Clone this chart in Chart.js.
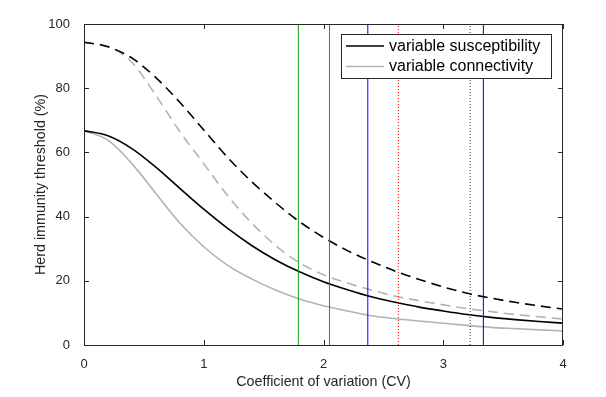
<!DOCTYPE html>
<html>
<head>
<meta charset="utf-8">
<script src="https://cdn.jsdelivr.net/npm/chart.js@4.4.0/dist/chart.umd.min.js"></script>
<style>
  html, body { margin: 0; padding: 0; background: #fff; }
  #wrap { width: 606px; height: 397px; }
</style>
</head>
<body>
<div id="wrap"><canvas id="grafico" width="606" height="397"></canvas></div>
<script>
// Valores
const cv = [0, 0.2, 0.4, 0.6, 0.8, 1.0, 1.2, 1.4, 1.6, 1.8, 2.0, 2.2, 2.4, 2.6, 2.8, 3.0, 3.2, 3.4, 3.6, 3.8, 4.0]
const suscAlto = [94.3, 92.9, 89.4, 83.3, 75.6, 67.0, 58.4, 50.9, 44.3, 38.4, 33.5, 29.4, 26.0, 23.0, 20.4, 18.1, 16.1, 14.6, 13.3, 12.2, 11.2]
const conecAlto = [94.3, 93.0, 88.0, 77.8, 66.5, 56.5, 46.5, 38.0, 31.0, 25.6, 21.9, 19.3, 17.1, 15.2, 13.8, 12.5, 11.3, 10.4, 9.5, 8.8, 8.1]
const suscBajo = [66.8, 65.2, 61.2, 55.4, 48.8, 42.3, 36.3, 31.0, 26.5, 22.8, 19.7, 17.2, 15.0, 13.3, 11.8, 10.6, 9.5, 8.6, 7.9, 7.3, 6.8]
const conecBajo = [66.8, 63.8, 56.5, 47.2, 38.0, 30.6, 24.8, 20.6, 17.1, 14.3, 12.2, 10.6, 9.1, 8.2, 7.5, 6.8, 6.1, 5.5, 5.1, 4.7, 4.4]
const marcas = [1.79, 2.05, 2.37, 2.625, 3.225, 3.335]
const xTicks = [0, 1, 2, 3, 4]
const yTicks = [0, 20, 40, 60, 80, 100]
const etiquetas = ['variable susceptibility', 'variable connectivity']

const negro = '#000000'
const gris = '#b3b3b3'
const ejes = '#262626'
const estiloMarcas = [
  { color: '#14a014', dash: [] },
  { color: '#2e8b2e', dash: [] },
  { color: '#0000ff', dash: [] },
  { color: '#ff0000', dash: [1, 2] },
  { color: '#333333', dash: [1, 2] },
  { color: '#0000c8', dash: [] }
]

Chart.defaults.font.family = '"Liberation Sans", Arial, sans-serif'
Chart.defaults.color = ejes

const pares = vals => cv.map((x, i) => ({ x, y: vals[i] }))

function curva(label, vals, color, dash) {
  return {
    label, data: pares(vals), borderColor: color, borderWidth: 1.6,
    borderDash: dash, pointRadius: 0, cubicInterpolationMode: 'monotone', fill: false
  }
}

const datasets = []
// Lineas verticales (encima de las curvas)
marcas.forEach((m, i) => {
  datasets.push({
    label: 'marca' + i,
    data: [{ x: m, y: 0 }, { x: m, y: 100 }],
    borderColor: estiloMarcas[i].color, borderWidth: 1,
    borderDash: estiloMarcas[i].dash, pointRadius: 0, fill: false
  })
})
datasets.push(curva(etiquetas[0], suscBajo, negro, []))
datasets.push(curva(etiquetas[1], conecBajo, gris, []))
datasets.push(curva(etiquetas[0] + ' R0 alto', suscAlto, negro, [10, 6]))
datasets.push(curva(etiquetas[1] + ' R0 alto', conecAlto, gris, [10, 6]))

// Caja y ticks hacia adentro, estilo MATLAB
const marco = {
  id: 'marco',
  afterDraw(chart) {
    const { ctx, chartArea: a, scales } = chart
    ctx.save()
    ctx.strokeStyle = ejes
    ctx.lineWidth = 1
    ctx.strokeRect(a.left + 0.5, a.top + 0.5, a.right - a.left - 1, a.bottom - a.top)
    ctx.beginPath()
    xTicks.forEach(t => {
      const px = Math.round(scales.x.getPixelForValue(t)) + 0.5
      ctx.moveTo(px, a.bottom); ctx.lineTo(px, a.bottom - 5)
      ctx.moveTo(px, a.top); ctx.lineTo(px, a.top + 5)
    })
    yTicks.forEach(t => {
      const py = Math.round(scales.y.getPixelForValue(t)) + 0.5
      ctx.moveTo(a.left, py); ctx.lineTo(a.left + 5, py)
      ctx.moveTo(a.right, py); ctx.lineTo(a.right - 5, py)
    })
    ctx.stroke()
    ctx.restore()
  }
}

// Leyenda en recuadro dentro del area
const leyenda = {
  id: 'leyenda',
  afterDraw(chart) {
    const { ctx } = chart
    const x0 = 341.5, y0 = 34.5, w = 210, h = 44
    ctx.save()
    ctx.fillStyle = '#fff'
    ctx.fillRect(x0, y0, w, h)
    ctx.strokeStyle = ejes
    ctx.lineWidth = 1
    ctx.strokeRect(x0, y0, w, h)
    const colores = [negro, gris]
    etiquetas.forEach((t, i) => {
      const y = y0 + 11.5 + i * 20.5
      ctx.strokeStyle = colores[i]
      ctx.lineWidth = 1.6
      ctx.beginPath(); ctx.moveTo(x0 + 4.5, y); ctx.lineTo(x0 + 42.5, y); ctx.stroke()
      ctx.fillStyle = '#000'
      ctx.font = '16px "Liberation Sans", Arial, sans-serif'
      ctx.textBaseline = 'middle'
      ctx.fillText(t, x0 + 47.5, y + 0.5)
    })
    ctx.restore()
  }
}

new Chart(document.getElementById('grafico'), {
  type: 'line',
  data: { datasets },
  options: {
    responsive: false,
    animation: false,
    layout: { padding: { left: 28, top: 24, right: 43, bottom: 2 } },
    plugins: { legend: { display: false }, tooltip: { enabled: false } },
    scales: {
      x: {
        type: 'linear', min: 0, max: 4,
        grid: { display: false }, border: { display: false },
        ticks: { stepSize: 1, padding: 4, font: { size: 13 }, color: ejes },
        title: { display: true, text: 'Coefficient of variation (CV)', font: { size: 14.3 }, color: ejes },
        afterFit: s => { s.height = 50 }
      },
      y: {
        min: 0, max: 100,
        grid: { display: false }, border: { display: false },
        ticks: { stepSize: 20, padding: 6, font: { size: 13 }, color: ejes },
        title: { display: true, text: 'Herd immunity threshold (%)', font: { size: 14.3 }, color: ejes },
        afterFit: s => { s.width = 56 }
      }
    }
  },
  plugins: [marco, leyenda]
})
</script>
</body>
</html>
